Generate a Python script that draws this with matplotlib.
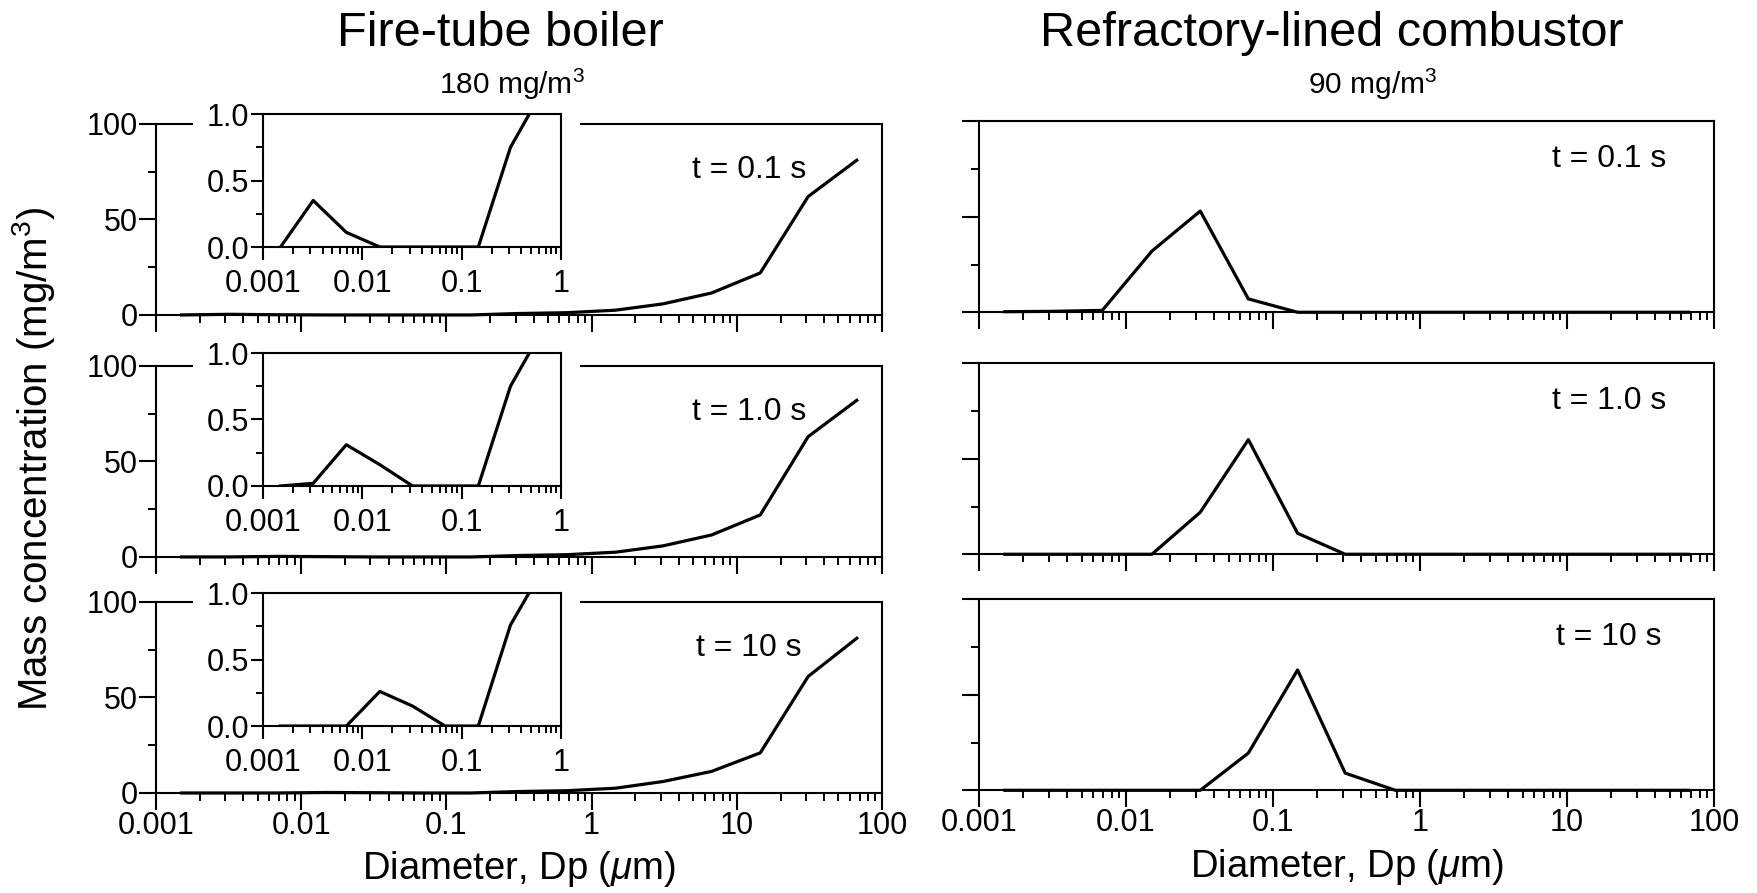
import numpy as np
import matplotlib.pyplot as plt
from matplotlib.patches import Rectangle
from matplotlib.ticker import LogLocator, NullFormatter

plt.rcParams["font.family"] = ["Liberation Sans", "DejaVu Sans"]
plt.rcParams["mathtext.fontset"] = "custom"
plt.rcParams["mathtext.rm"] = "Liberation Sans"
plt.rcParams["mathtext.it"] = "Liberation Sans:italic"

# particle diameter of each size bin (um)
diameters = [0.0015, 0.0032, 0.0069, 0.015, 0.032, 0.068, 0.147, 0.31,
             0.68, 1.46, 3.1, 6.7, 14.5, 31, 67]

# mass concentration (mg/m3) per bin, fire-tube boiler
boiler_01 = [0, 0.35, 0.11, 0, 0, 0, 0, 0.75, 1.2, 2.5, 5.8, 11.5, 22, 62, 81]
boiler_1 = [0, 0.02, 0.31, 0.16, 0, 0, 0, 0.75, 1.2, 2.5, 5.8, 11.5, 22, 63, 82]
boiler_10 = [0, 0, 0, 0.26, 0.15, 0, 0, 0.76, 1.2, 2.5, 6.0, 11.3, 21, 61, 81]

# refractory-lined combustor
combustor_01 = [0.3, 0.5, 1.0, 32, 53, 7, 0, 0, 0, 0, 0, 0, 0, 0, 0]
combustor_1 = [0, 0, 0, 0, 22, 60, 11, 0, 0, 0, 0, 0, 0, 0, 0]
combustor_10 = [0, 0, 0, 0, 0, 19.5, 63, 9, 0, 0, 0, 0, 0, 0, 0]

boiler = [boiler_01, boiler_1, boiler_10]
combustor = [combustor_01, combustor_1, combustor_10]
time_labels = ["t = 0.1 s", "t = 1.0 s", "t = 10 s"]

main_ticks = [0.001, 0.01, 0.1, 1, 10, 100]
main_tick_labels = ["0.001", "0.01", "0.1", "1", "10", "100"]
inset_ticks = [0.001, 0.01, 0.1, 1]
inset_tick_labels = ["0.001", "0.01", "0.1", "1"]

fig = plt.figure(figsize=(17.57, 8.93), dpi=100)

row_bottoms = [0.6473, 0.3763, 0.1120]
row_h = 0.2139
inset_bottoms = [0.7234, 0.4558, 0.1870]
inset_h = 0.1489


def style_axis(ax, xlim, ylim, xticks, xlabels, yticks, ylabels, yminor,
               major_len, minor_len):
    ax.set_xscale("log")
    ax.set_xlim(*xlim)
    ax.set_ylim(*ylim)
    ax.set_xticks(xticks)
    ax.set_xticklabels(xlabels)
    ax.xaxis.set_minor_locator(LogLocator(base=10, subs=np.arange(2, 10)))
    ax.xaxis.set_minor_formatter(NullFormatter())
    ax.set_yticks(yticks)
    ax.set_yticklabels(ylabels)
    ax.set_yticks(yminor, minor=True)
    for s in ax.spines.values():
        s.set_linewidth(1.5)
    ax.tick_params(which="major", direction="out", length=major_len,
                   width=1.5, labelsize=22, pad=1)
    ax.tick_params(which="minor", direction="out", length=minor_len, width=1.4)


for i in range(3):
    # left column: fire-tube boiler
    ax = fig.add_axes([0.0888, row_bottoms[i], 0.4132, row_h])
    style_axis(ax, (1e-3, 100), (0, 100), main_ticks, main_tick_labels,
               [0, 50, 100], ["0", "50", "100"], [25, 75], 12, 6)
    ax.plot(diameters, boiler[i], color="k", lw=2.3, clip_on=False)
    ax.text(0.817, 0.76, time_labels[i], transform=ax.transAxes,
            ha="center", va="center", fontsize=23)
    if i < 2:
        ax.tick_params(labelbottom=False)

    # white box hiding the main frame behind the inset
    fig.add_artist(Rectangle((0.1098, inset_bottoms[i] - 0.05), 0.2203,
                             inset_h + 0.07, transform=fig.transFigure,
                             facecolor="white", edgecolor="none", zorder=0.5))

    axi = fig.add_axes([0.1497, inset_bottoms[i], 0.1696, inset_h])
    axi.set_zorder(1)
    style_axis(axi, (1e-3, 1), (0, 1), inset_ticks, inset_tick_labels,
               [0, 0.5, 1], ["0.0", "0.5", "1.0"], [0.25, 0.75], 9, 5)
    axi.tick_params(axis="x", which="major", pad=7)
    axi.plot(diameters, boiler[i], color="k", lw=2.3)

    # right column: refractory-lined combustor
    axr = fig.add_axes([0.5572, row_bottoms[i] + 0.003, 0.4183, row_h])
    style_axis(axr, (1e-3, 100), (0, 100), main_ticks, main_tick_labels,
               [0, 50, 100], ["0", "50", "100"], [25, 75], 12, 6)
    axr.tick_params(labelleft=False)
    axr.plot(diameters, combustor[i], color="k", lw=2.3, clip_on=False)
    axr.text(0.857, 0.8, time_labels[i], transform=axr.transAxes,
             ha="center", va="center", fontsize=23)
    if i < 2:
        axr.tick_params(labelbottom=False)
    else:
        axr.set_xlabel(r"Diameter, Dp ($\mu$m)", fontsize=27.5, labelpad=6)
        ax.set_xlabel(r"Diameter, Dp ($\mu$m)", fontsize=27.5, labelpad=6)

fig.text(0.2846, 0.962, "Fire-tube boiler", fontsize=35, ha="center", va="center")
fig.text(0.2914, 0.906, "180 mg/m$^3$", fontsize=21.5, ha="center", va="center")
fig.text(0.758, 0.962, "Refractory-lined combustor", fontsize=35,
         ha="center", va="center")
fig.text(0.7814, 0.906, "90 mg/m$^3$", fontsize=21.5, ha="center", va="center")
fig.text(0.019, 0.486, "Mass concentration (mg/m$^3$)", fontsize=29,
         rotation=90, ha="center", va="center")

fig.savefig("out.png", dpi=100)
